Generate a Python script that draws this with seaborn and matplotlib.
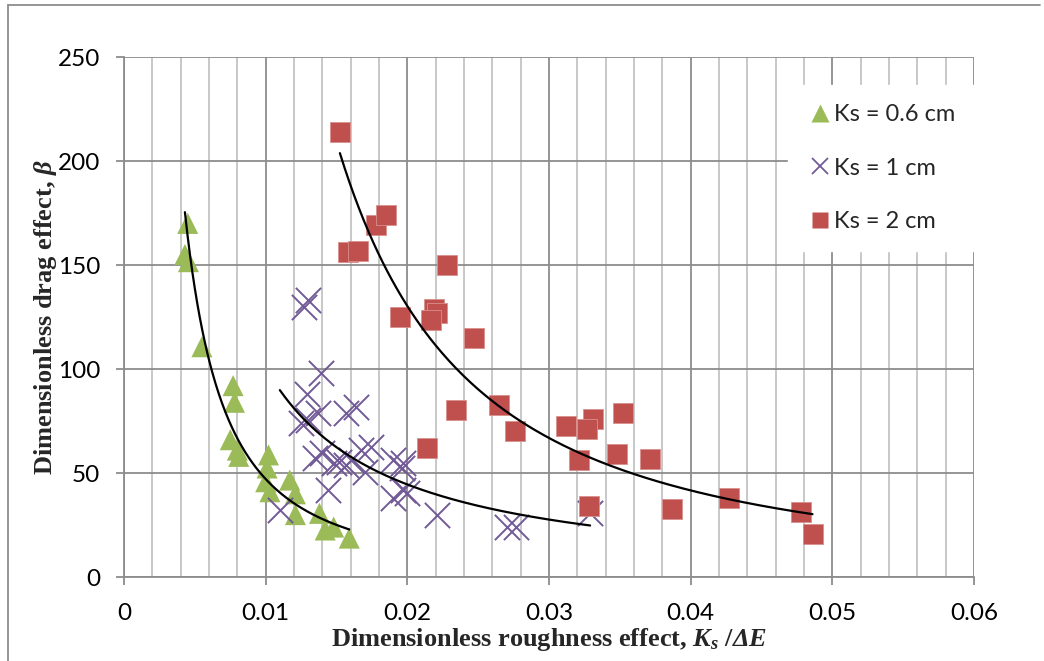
import numpy as np
import pandas as pd
import matplotlib
matplotlib.use("Agg")
import matplotlib.pyplot as plt
import seaborn as sns
from matplotlib.ticker import MultipleLocator, FuncFormatter
from matplotlib.lines import Line2D

# ---- data ----
ks06_x = [0.0045, 0.0043, 0.00455, 0.0055, 0.0077, 0.0078, 0.0075, 0.0080, 0.0081,
          0.0102, 0.0101, 0.0100, 0.0103, 0.0117, 0.0121, 0.0121, 0.0138, 0.0142,
          0.0148, 0.0159]
ks06_y = [170, 155, 151.6, 110.7, 92, 84, 66, 61, 58,
          58.7, 52.4, 45.8, 41, 46.6, 40, 30, 30.6, 22.6,
          24, 18.7]

ks1_x = [0.0127, 0.0130, 0.0139, 0.0129, 0.0137, 0.0157, 0.0164, 0.0125, 0.0130,
         0.0140, 0.0135, 0.0152, 0.0160, 0.0167, 0.0174, 0.0170, 0.0157, 0.0148,
         0.0190, 0.0197, 0.0196, 0.0144, 0.0190, 0.0197, 0.0200, 0.0110, 0.0221,
         0.0270, 0.0277, 0.0329]
ks1_y = [130, 133, 98, 88, 78.7, 78.7, 81.9, 73.9, 75.5,
         59.5, 57, 55.4, 56.3, 61, 62.6, 50.6, 54, 54.7,
         56.3, 54.7, 52.3, 41.8, 37.8, 41.8, 40.2, 32.2, 29.8,
         24.2, 24.2, 30.6]

ks2_x = [0.01524, 0.0158, 0.0165, 0.0178, 0.0185, 0.0228, 0.0219, 0.0221, 0.0217,
         0.0195, 0.0247, 0.0234, 0.0265, 0.0276, 0.0214, 0.0312, 0.0331, 0.0327,
         0.0352, 0.0321, 0.0348, 0.0371, 0.0328, 0.0387, 0.0427, 0.0478, 0.0486]
ks2_y = [214, 156.4, 156.9, 169, 174, 150, 129, 126.8, 123.6,
         125, 115, 80.3, 82.7, 70.3, 61.9, 72.6, 75.8, 71,
         78.7, 56.3, 59, 56.7, 34.3, 32.5, 38.1, 31.4, 20.7]

labels = ["Ks = 0.6 cm", "Ks = 1 cm", "Ks = 2 cm"]
x_ticks = [0, 0.01, 0.02, 0.03, 0.04, 0.05, 0.06]
y_ticks = [0, 50, 100, 150, 200, 250]

colors = ["#9BBB59", "#715A96", "#C0504D"]

df = pd.concat([
    pd.DataFrame({"x": ks06_x, "y": ks06_y, "series": labels[0]}),
    pd.DataFrame({"x": ks1_x, "y": ks1_y, "series": labels[1]}),
    pd.DataFrame({"x": ks2_x, "y": ks2_y, "series": labels[2]}),
])

sns.set_theme(style="white")
plt.rcParams["font.family"] = ["Lato", "DejaVu Sans"]
plt.rcParams["mathtext.fontset"] = "custom"
plt.rcParams["mathtext.rm"] = "Liberation Serif:italic:bold"
plt.rcParams["mathtext.it"] = "Liberation Serif:italic:bold"
plt.rcParams["mathtext.bf"] = "Liberation Serif:italic:bold"

fig = plt.figure(figsize=(10.44, 6.61), dpi=100)
ax = fig.add_axes([124 / 1044, 1 - 577 / 661, (974 - 124) / 1044, (577 - 57) / 661])

# scatter series
sub = df[df.series == labels[0]]
sns.scatterplot(data=sub, x="x", y="y", marker="^", s=230, color=colors[0],
                edgecolor="none", ax=ax, zorder=3, legend=False)
sub = df[df.series == labels[1]]
sns.scatterplot(data=sub, x="x", y="y", marker="x", s=330, color=colors[1],
                linewidth=1.4, ax=ax, zorder=3, legend=False)
sub = df[df.series == labels[2]]
sns.scatterplot(data=sub, x="x", y="y", marker="s", s=200, color=colors[2],
                edgecolor="#D9908E", linewidth=0.6, ax=ax, zorder=3, legend=False)

# power trendlines (least squares in log space, as Excel does)
for xs, ys in [(ks06_x, ks06_y), (ks1_x, ks1_y), (ks2_x, ks2_y)]:
    xs = np.asarray(xs); ys = np.asarray(ys)
    b, loga = np.polyfit(np.log(xs), np.log(ys), 1)
    xx = np.linspace(xs.min(), xs.max(), 200)
    ax.plot(xx, np.exp(loga) * xx ** b, color="black", lw=1.6, zorder=4)

ax.set_xlim(0, 0.06)
ax.set_ylim(0, 250)
ax.set_xticks(x_ticks)
ax.set_yticks(y_ticks)
ax.xaxis.set_minor_locator(MultipleLocator(0.002))
ax.xaxis.set_major_formatter(FuncFormatter(lambda v, p: "0" if v == 0 else f"{v:g}"))
ax.grid(which="major", axis="both", color="#8C8C8C", lw=1.3, zorder=0)
ax.grid(which="minor", axis="x", color="#C4C4C4", lw=1.3, zorder=0)
ax.set_axisbelow(True)

for s in ["top", "right"]:
    ax.spines[s].set_visible(False)
for s in ["left", "bottom"]:
    ax.spines[s].set_color("#8C8C8C")
    ax.spines[s].set_linewidth(1.3)
ax.tick_params(axis="both", which="major", direction="out", width=1.3,
               color="#8C8C8C", labelsize=17.5, labelcolor="black")
ax.tick_params(axis="y", which="major", length=6, pad=11, left=True)
ax.tick_params(axis="x", which="major", length=6, pad=12.5, bottom=True)
ax.tick_params(axis="x", which="minor", length=0)

ax.set_xlabel(r"Dimensionless roughness effect, $K_s$ /$\Delta E$",
              fontsize=19, fontweight="bold", family="Liberation Serif", labelpad=2)
ax.set_ylabel(r"Dimensionless drag effect, $\beta$",
              fontsize=19, fontweight="bold", family="Liberation Serif", labelpad=-1)

handles = [
    Line2D([], [], marker="^", linestyle="none", markersize=13, color=colors[0], markeredgecolor="none"),
    Line2D([], [], marker="x", linestyle="none", markersize=12, color=colors[1], markeredgewidth=1.3),
    Line2D([], [], marker="s", linestyle="none", markersize=12, color=colors[2], markeredgecolor="none"),
]
leg = ax.legend(handles, labels, loc="upper right", bbox_to_anchor=(1.0, 0.946),
                borderaxespad=0, fontsize=17, frameon=True, fancybox=False,
                facecolor="white", edgecolor="white", framealpha=1,
                labelspacing=1.38, handletextpad=0.05, handlelength=1.1,
                borderpad=0.8)
leg.set_zorder(5)

# outer chart border
fig.add_artist(Line2D([8 / 1044, 8 / 1044], [0, 1 - 5 / 661], transform=fig.transFigure,
                      color="#8C8C8C", lw=1.3))
fig.add_artist(Line2D([8 / 1044, 1040 / 1044], [1 - 5 / 661, 1 - 5 / 661],
                      transform=fig.transFigure, color="#8C8C8C", lw=1.3))

fig.savefig("out.png", dpi=100)
